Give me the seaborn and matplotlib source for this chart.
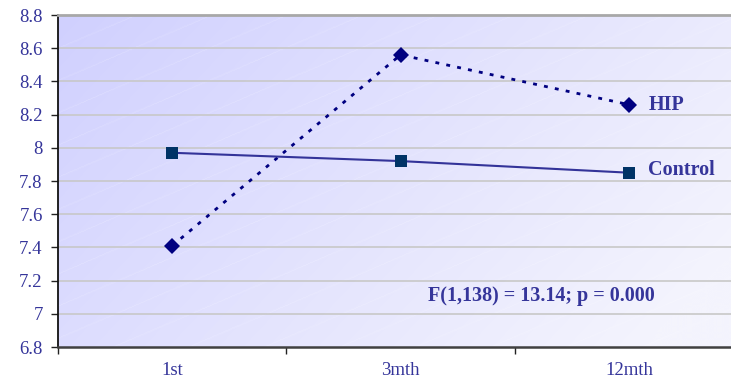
import numpy as np
import pandas as pd
import matplotlib
matplotlib.use("Agg")
import matplotlib.pyplot as plt
import seaborn as sns

# Follow-up points and mean scores per group
timepoints = ["1st", "3mth", "12mth"]
hip_scores = [7.41, 8.56, 8.26]
control_scores = [7.97, 7.92, 7.85]
y_ticks = [6.8, 7.0, 7.2, 7.4, 7.6, 7.8, 8.0, 8.2, 8.4, 8.6, 8.8]
y_tick_labels = ["6.8", "7", "7.2", "7.4", "7.6", "7.8", "8", "8.2", "8.4", "8.6", "8.8"]
stat_text = "F(1,138) = 13.14; p = 0.000"

sns.set_theme(style="white")
plt.rcParams["font.family"] = ["Liberation Serif", "DejaVu Serif"]

text_color = "#35359a"

df = pd.DataFrame({
    "pos": list(range(len(timepoints))) * 2,
    "score": hip_scores + control_scores,
    "group": ["HIP"] * len(timepoints) + ["Control"] * len(timepoints),
})

fig = plt.figure(figsize=(7.31, 3.82), dpi=100)
ax = fig.add_axes([58 / 731, 1 - 347 / 382, 1 - 58 / 731, (347 - 15) / 382])

# Shaded plot-area fill: diagonal lavender-to-white gradient with faint stripes
h, w = 340, 700
yy, xx = np.mgrid[0:h, 0:w]
t = np.clip(0.75 * xx / w + 0.35 * yy / h, 0, 1)
c0 = np.array([208, 208, 255]) / 255.0
c1 = np.array([244, 244, 253]) / 255.0
img = c0[None, None, :] * (1 - t[..., None]) + c1[None, None, :] * t[..., None]
stripe = ((yy + 0.42 * xx) % 33.0) < 1.0
img[stripe] = img[stripe] * 0.85 + 0.15
ax.imshow(img, extent=[0, 1, 0, 1], transform=ax.transAxes, aspect="auto",
          zorder=0, interpolation="bilinear")

for yv in y_ticks[1:-1]:
    ax.axhline(yv, color="#c8c8c8", lw=1.2, zorder=1)

sub_hip = df[df.group == "HIP"]
sub_ctl = df[df.group == "Control"]
sns.lineplot(data=sub_hip, x="pos", y="score", ax=ax, color="#000080", lw=2.0,
             marker="D", markersize=8, markeredgewidth=0, zorder=3)
ax.lines[-1].set_dashes((1.4, 2.6))
sns.lineplot(data=sub_ctl, x="pos", y="score", ax=ax, color="#333399", lw=1.5,
             marker="s", markersize=9, markerfacecolor="#003366",
             markeredgecolor="#003366", markeredgewidth=0, zorder=3)

ax.annotate("HIP", (2, hip_scores[-1]), xytext=(14, 0), textcoords="offset points",
            ha="left", va="center", fontsize=14.5, fontweight="bold", color=text_color)
ax.annotate("Control", (2, control_scores[-1]), xytext=(14, 2), textcoords="offset points",
            ha="left", va="center", fontsize=14.5, fontweight="bold", color=text_color)
ax.text(1.12, 7.11, stat_text, ha="left", va="center", fontsize=14.5,
        fontweight="bold", color=text_color)

ax.set_xlim(-0.5, 2.447)
ax.set_ylim(6.8, 8.8)
ax.set_yticks(y_ticks)
ax.set_yticklabels(y_tick_labels)
ax.set_xticks(range(len(timepoints)))
ax.set_xticklabels(timepoints)
ax.set_xticks([-0.5, 0.5, 1.5], minor=True)
ax.tick_params(axis="x", which="major", length=0, pad=11, labelsize=13.5, labelcolor=text_color)
ax.tick_params(axis="x", which="minor", length=5, width=1, color="#222222", direction="out", bottom=True)
ax.tick_params(axis="y", length=5, width=1, color="#222222", direction="out", left=True,
               labelsize=13.5, labelcolor=text_color, pad=6)
ax.set_xlabel("")
ax.set_ylabel("")
ax.grid(False)

ax.spines["right"].set_visible(False)
ax.spines["top"].set_color("#a8a8a8")
ax.spines["top"].set_linewidth(2)
ax.spines["bottom"].set_color("#404040")
ax.spines["bottom"].set_linewidth(1.8)
ax.spines["left"].set_color("#111111")
ax.spines["left"].set_linewidth(1.3)
if ax.get_legend() is not None:
    ax.get_legend().remove()

fig.savefig("out.png", dpi=100)
